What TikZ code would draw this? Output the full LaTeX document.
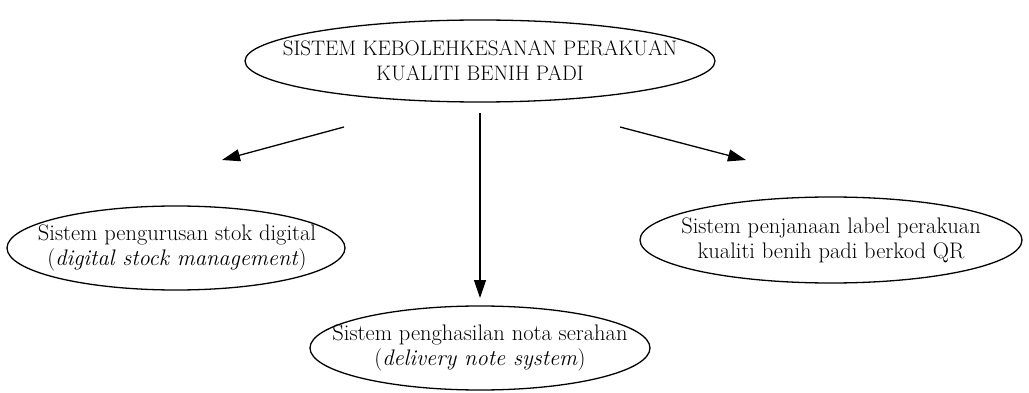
\documentclass[tikz,border=0pt]{standalone}
\usetikzlibrary{shapes.geometric,arrows.meta}
\begin{document}
\begin{tikzpicture}[x=1pt,y=-1pt,
  oval/.style={draw, ellipse, line width=1.3pt, inner sep=0pt},
  txt/.style={align=center, inner sep=0pt, font=\fontsize{22.5}{25}\selectfont},
  caps/.style={txt, font=\fontsize{21}{25}\selectfont},
  arr/.style={line width=1.3pt, -{Triangle[length=18pt,width=12pt]}}]
\useasboundingbox (0,0) rectangle (1029,393);
% ellipses
\node[oval, minimum width=470pt, minimum height=82pt] (top) at (480,61) {};
\node[oval, minimum width=338pt, minimum height=84pt] (left) at (176,248) {};
\node[oval, minimum width=340pt, minimum height=84pt] (mid) at (480,348) {};
\node[oval, minimum width=382pt, minimum height=86pt] (right) at (831,240) {};
% texts
\node[txt] (leftt) at ([xshift=1pt]left.center) {Sistem pengurusan stok digital\\(\textit{digital stock management})};
\node[caps] (topt) at (top) {SISTEM KEBOLEHKESANAN PERAKUAN\\KUALITI BENIH PADI};
\node[txt] (midt) at (mid) {Sistem penghasilan nota serahan\\(\textit{delivery note system})};
\node[txt] (rightt) at (right) {Sistem penjanaan label perakuan\\kualiti benih padi berkod QR};
% arrows
\coordinate (a1s) at (344,127);
\coordinate (a1e) at (222,160);
\coordinate (a2s) at (480,113);
\coordinate (a2e) at (480,298);
\coordinate (a3s) at (620,127);
\coordinate (a3e) at (746,160);
\draw[arr] (a1s) -- (a1e);
\draw[arr] (a2s) -- (a2e);
\draw[arr] (a3s) -- (a3e);
\end{tikzpicture}
\end{document}
